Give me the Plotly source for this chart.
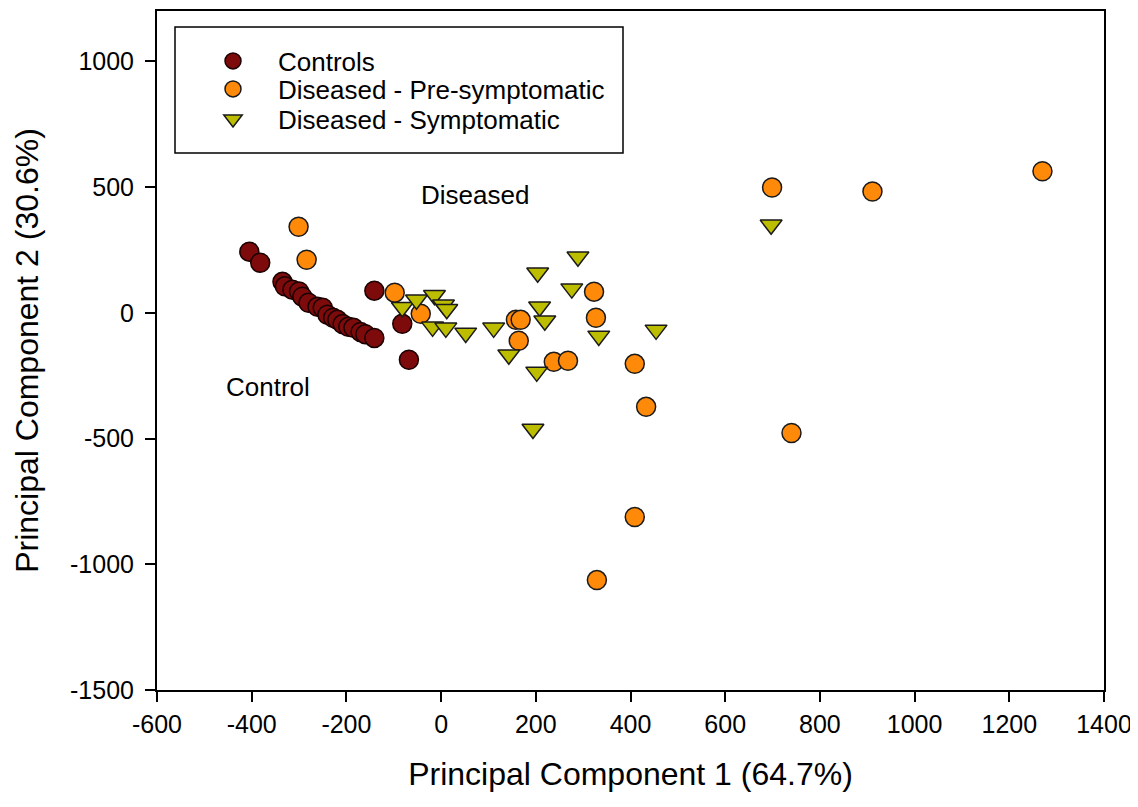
import plotly.graph_objects as go

# ---- data ----
controls_x = [-405, -382, -335, -330, -314, -300, -293, -280, -261, -250, -240, -228,
              -219, -208, -196, -185, -170, -160, -141, -141, -82, -68]
controls_y = [243, 199, 123, 105, 92, 85, 64, 40, 24, 20, -8, -20,
              -28, -45, -56, -60, -76, -85, -100, 88, -44, -187]

pre_x = [-301, -284, -98, -43, 158, 168, 164, 238, 268, 323, 327, 409, 433,
         699, 911, 1270, 740, 409, 329]
pre_y = [342, 211, 80, -4, -28, -28, -111, -195, -191, 84, -20, -203, -374,
         498, 482, 563, -478, -812, -1063]

sym_x = [-82, -52, -14, 5, 12, -18, 10, 52, 111, 143, 204, 289, 276, 208, 219,
         202, 333, 454, 194, 697]
sym_y = [22, 52, 70, 32, 14, -56, -60, -80, -60, -167, 159, 223, 96, 24, -32,
         -235, -92, -68, -462, 350]

x_ticks = [-600, -400, -200, 0, 200, 400, 600, 800, 1000, 1200, 1400]
y_ticks = [-1500, -1000, -500, 0, 500, 1000]

annot_text = ["Diseased", "Control"]
annot_x = [71, -365]
annot_y = [470, -295]

FONT = "Liberation Sans, Arial, sans-serif"

# plot area in page pixels (page has 8px body offset)
PL, PR, PT, PB = 157, 1104, 11, 690
PW, PH = PR - PL, PB - PT


def px_x(p):
    return (p - PL) / PW


def px_y(p):
    return (PB - p) / PH


fig = go.Figure()
fig.add_trace(go.Scatter(
    x=controls_x, y=controls_y, mode="markers", name="Controls", legend="legend",
    marker=dict(symbol="circle", size=19, color="#7d0b0b",
                line=dict(color="#1a0000", width=1.5))))
fig.add_trace(go.Scatter(
    x=pre_x, y=pre_y, mode="markers", name="Diseased - Pre-symptomatic", legend="legend2",
    marker=dict(symbol="circle", size=19, color="#ff8a0a",
                line=dict(color="#1a1a1a", width=1.5))))
fig.add_trace(go.Scatter(
    x=sym_x, y=sym_y, mode="markers", name="Diseased - Symptomatic", legend="legend3",
    marker=dict(symbol="triangle-down", size=19, color="#bdbd00",
                line=dict(color="#1a1a1a", width=1.5))))

for t, ax_, ay_ in zip(annot_text, annot_x, annot_y):
    fig.add_annotation(x=ax_, y=ay_, text=t, showarrow=False,
                       font=dict(family=FONT, size=26, color="black"))

# legend frame
fig.add_shape(type="rect", xref="paper", yref="paper",
              x0=px_x(175), x1=px_x(623), y0=px_y(153), y1=px_y(27),
              line=dict(color="black", width=1.5), fillcolor="rgba(0,0,0,0)")

leg_common = dict(xanchor="left", yanchor="middle", bgcolor="rgba(0,0,0,0)",
                  borderwidth=0, font=dict(family=FONT, size=26, color="black"),
                  itemwidth=80)
LX = px_x(188)

fig.update_layout(
    width=1130, height=799,
    margin=dict(l=149, r=34, t=3, b=117, autoexpand=False),
    paper_bgcolor="white", plot_bgcolor="white",
    font=dict(family=FONT, size=25, color="black"),
    showlegend=True,
    legend=dict(x=LX, y=px_y(61), **leg_common),
    legend2=dict(x=LX, y=px_y(89), **leg_common),
    legend3=dict(x=LX, y=px_y(119), **leg_common),
    xaxis=dict(range=[-600, 1400], tickvals=x_ticks, ticktext=[str(v) for v in x_ticks],
               showgrid=False, zeroline=False, showline=True, linecolor="black",
               linewidth=2, mirror=True, ticks="outside", ticklen=10, tickwidth=2,
               tickcolor="black", tickfont=dict(size=25), ticklabelstandoff=1,
               title=dict(text="Principal Component 1 (64.7%)", font=dict(size=32),
                          standoff=26)),
    yaxis=dict(range=[-1500, 1200], tickvals=y_ticks, ticktext=[str(v) for v in y_ticks],
               showgrid=False, zeroline=False, showline=True, linecolor="black",
               linewidth=2, mirror=True, ticks="outside", ticklen=10, tickwidth=2,
               tickcolor="black", tickfont=dict(size=25), ticklabelstandoff=6,
               title=dict(text="Principal Component 2 (30.6%)", font=dict(size=32),
                          standoff=22)),
)

fig.write_html("out.html")
